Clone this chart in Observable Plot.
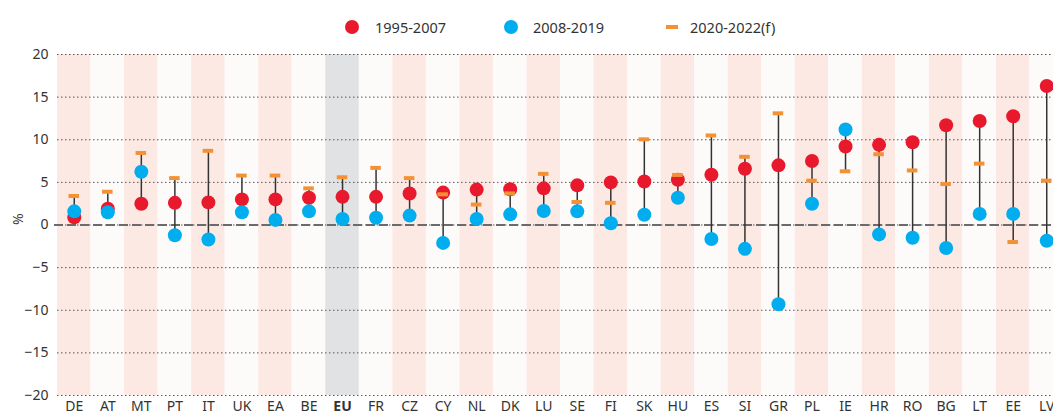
<!DOCTYPE html>
<html><head><meta charset="utf-8">
<script src="https://cdn.jsdelivr.net/npm/d3@7"></script>
<script src="https://cdn.jsdelivr.net/npm/@observablehq/plot@0.6"></script>
<style>
body{margin:0;background:#fff;font-family:"Noto Sans",sans-serif;overflow:hidden;}
#legend{position:relative;height:44px;width:1053px;font-size:14.5px;color:#333;}
.sw{position:absolute;}
.lt{position:absolute;top:17px;line-height:20px;white-space:nowrap;}
</style></head><body>
<div id="legend">
  <div class="sw" style="left:345px;top:20px;width:14px;height:14px;border-radius:7px;background:#e8192c"></div>
  <div class="lt" style="left:375px">1995-2007</div>
  <div class="sw" style="left:504px;top:20px;width:14px;height:14px;border-radius:7px;background:#00adee"></div>
  <div class="lt" style="left:533px">2008-2019</div>
  <div class="sw" style="left:666px;top:25px;width:12px;height:4px;background:#f39234"></div>
  <div class="lt" style="left:690px">2020-2022(f)</div>
</div>
<div id="chart"></div>
<script>
const countries = ["DE","AT","MT","PT","IT","UK","EA","BE","EU","FR","CZ","CY","NL","DK","LU","SE","FI","SK","HU","ES","SI","GR","PL","IE","HR","RO","BG","LT","EE","LV"];
const v1995 = [0.9,1.9,2.5,2.6,2.65,3.0,3.0,3.2,3.3,3.3,3.7,3.8,4.15,4.2,4.3,4.65,5.0,5.1,5.3,5.9,6.6,7.0,7.5,9.2,9.4,9.7,11.7,12.2,12.75,16.3];
const v2008 = [1.6,1.5,6.25,-1.2,-1.7,1.5,0.6,1.6,0.7,0.85,1.1,-2.1,0.7,1.25,1.65,1.6,0.2,1.2,3.2,-1.65,-2.8,-9.3,2.5,11.2,-1.1,-1.5,-2.7,1.3,1.3,-1.85];
const v2020 = [3.4,3.9,8.45,5.5,8.7,5.8,5.8,4.3,5.6,6.7,5.5,3.6,2.4,3.7,6.0,2.7,2.6,10.05,5.87,10.5,8.0,13.1,5.2,6.3,8.3,6.4,4.8,7.2,-2.0,5.2];
const yTicks = [-20,-15,-10,-5,0,5,10,15,20];

const rows = countries.map((c,i)=>({
  c, i, a:v1995[i], b:v2008[i], f:v2020[i],
  lo:Math.min(v1995[i],v2008[i],v2020[i]), hi:Math.max(v1995[i],v2008[i],v2020[i])
}));
const bandFill = d => d.c==="EU" ? "#e1e2e4" : (d.i%2===0 ? "#fce9e4" : "#fdfbfa");

const plot = Plot.plot({
  width:1053, height:373, marginTop:10, marginBottom:22, marginLeft:57, marginRight:0,
  style:"font-family:'Noto Sans',sans-serif;font-size:14px;color:#333;background:#fff;",
  x:{domain:countries, range:[57,1063], padding:0, round:false, label:null},
  y:{domain:[-20,20], label:null},
  color:{type:"identity"},
  marks:[
    Plot.cell(rows,{x:"c", fill:bandFill}),
    Plot.ruleY(yTicks,{stroke:"#555", strokeDasharray:"1.5,2.5", strokeWidth:1}),
    Plot.ruleY([0],{stroke:"#6b6b6b", strokeWidth:2.2, strokeDasharray:"9,4", insetLeft:-3}),
    Plot.ruleX(rows,{x:"c", y1:"lo", y2:"hi", stroke:"#333", strokeWidth:1.5}),
    Plot.dot(rows,{x:"c", y:"a", r:7, fill:"#e8192c"}),
    Plot.dot(rows,{x:"c", y:"b", r:7, fill:"#00adee"}),
    Plot.tickY(rows,{x:"c", y:"f", stroke:"#f39234", strokeWidth:4, insetLeft:11.5, insetRight:11.5}),
    Plot.axisY(yTicks,{tickSize:0, tickPadding:9, label:null, fontSize:14}),
    Plot.text(["%"],{frameAnchor:"left", dx:-39, rotate:-90, fontSize:14, fill:"#333"}),
    Plot.axisX({tickSize:0, tickPadding:6, tickFormat:d=>d==="EU"?"":d, label:null, fontSize:14}),
    Plot.axisX(["EU"],{tickSize:0, tickPadding:6, fontWeight:"bold", label:null, fontSize:14})
  ]
});
document.getElementById("chart").appendChild(plot);
</script>
</body></html>
